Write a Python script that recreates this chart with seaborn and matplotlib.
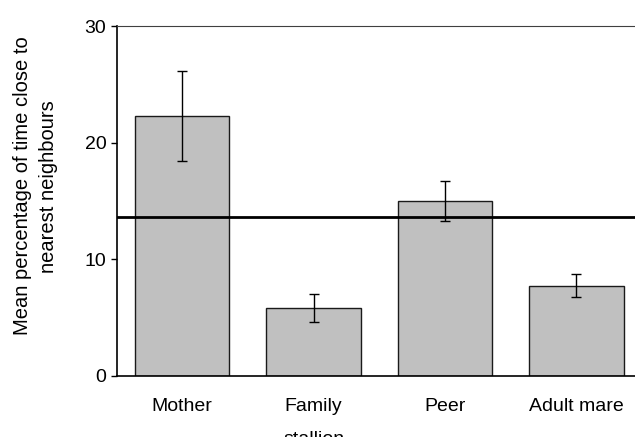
import matplotlib
matplotlib.use("Agg")
import matplotlib.pyplot as plt
import seaborn as sns
import pandas as pd
import numpy as np

categories = ["Mother", "Family\nstallion", "Peer", "Adult mare"]
means = [22.3, 5.8, 15.0, 7.75]
errors = [3.85, 1.2, 1.7, 1.0]
reference_line = 13.65
y_ticks = [0, 10, 20, 30]
ylabel_lines = ["Mean percentage of time close to", "nearest neighbours"]

sns.set_theme(style="white")
plt.rcParams['font.family'] = ['Liberation Sans', 'DejaVu Sans']

df = pd.DataFrame({"category": categories, "mean": means, "err": errors})

fig = plt.figure(figsize=(6.35, 4.37), dpi=100)
ax = fig.add_axes([0.1835, 0.1396, 1.011 - 0.1835, 0.9405 - 0.1396])

sns.barplot(data=df, x="category", y="mean", color="#c0c0c0", width=0.72,
            edgecolor="#1a1a1a", linewidth=1.0, saturation=1, ax=ax)
ax.errorbar(x=np.arange(len(categories)), y=df["mean"], yerr=df["err"],
            fmt="none", ecolor="black", elinewidth=1.0, capsize=3.9, capthick=1.0)
ax.axhline(reference_line, color="black", linewidth=2.0, zorder=5)

ax.set_ylim(0, 30)
ax.set_xlim(-0.5, len(categories) - 0.5)
ax.set_yticks(y_ticks)
ax.set_yticklabels([str(t) for t in y_ticks], fontsize=14, color="black")
ax.set_xticks(np.arange(len(categories)))
ax.set_xticklabels(categories, fontsize=14, color="black")
for t in ax.get_xticklabels():
    t.set_linespacing(2.3)
ax.tick_params(axis="x", which="major", length=0, pad=15.5)
ax.set_xticks(np.arange(len(categories) + 1) - 0.5, minor=True)
ax.tick_params(axis="x", which="minor", length=4.3, width=1, color="black", direction="out")
ax.tick_params(axis="y", length=4.3, width=1, color="black", direction="out", left=True, pad=3)
ax.set_xlabel("")
ax.set_ylabel("")

fig.text(28.3 / 635, 1 - 186 / 437, ylabel_lines[0], rotation=90, rotation_mode="anchor",
         ha="center", va="baseline", fontsize=14.5, color="black")
fig.text(54.5 / 635, 1 - 187 / 437, ylabel_lines[1], rotation=90, rotation_mode="anchor",
         ha="center", va="baseline", fontsize=14.5, color="black")

for s in ["left", "bottom"]:
    ax.spines[s].set_color("black")
    ax.spines[s].set_linewidth(1.2)
ax.spines["top"].set_color("#404040")
ax.spines["top"].set_linewidth(0.8)
ax.spines["right"].set_visible(False)

fig.savefig("out.png", dpi=100)
